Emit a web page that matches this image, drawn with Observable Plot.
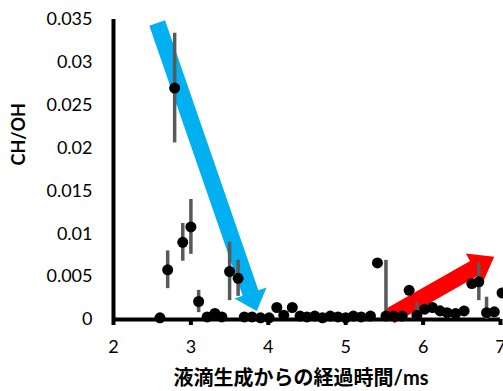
<!DOCTYPE html>
<html>
<head>
<meta charset="utf-8">
<script src="https://cdn.jsdelivr.net/npm/d3@7"></script>
<script src="https://cdn.jsdelivr.net/npm/@observablehq/plot@0.6"></script>
<style>
  html, body { margin: 0; padding: 0; background: #fff; }
  #chart { width: 503px; height: 391px; overflow: hidden; }
</style>
</head>
<body>
<div id="chart"></div>
<script>
// Elapsed time since droplet generation (ms)
const timeMs = [
  2.60, 2.70, 2.79, 2.895, 3.00, 3.10, 3.21, 3.31, 3.40, 3.50, 3.61,
  3.69, 3.79, 3.90, 4.01, 4.11, 4.20, 4.31, 4.41,
  4.50, 4.60, 4.70, 4.80, 4.90, 5.00, 5.10, 5.20, 5.32, 5.41,
  5.52, 5.62, 5.73, 5.82, 5.92, 6.02, 6.12, 6.22, 6.31, 6.42, 6.53,
  6.63, 6.72, 6.82, 6.92, 7.02
];
// CH/OH ratio
const chOh = [
  0.0002, 0.0058, 0.0270, 0.0090, 0.0108, 0.0021, 0.0003, 0.0007, 0.0003, 0.0056, 0.0048,
  0.0003, 0.0003, 0.0002, 0.0002, 0.0014, 0.0005, 0.0014, 0.0004,
  0.0003, 0.0004, 0.0002, 0.0004, 0.0003, 0.0002, 0.0004, 0.0003, 0.0004, 0.0066,
  0.0004, 0.0004, 0.0004, 0.0034, 0.0005, 0.0012, 0.0014, 0.0010, 0.0008, 0.0007, 0.0010,
  0.0042, 0.0044, 0.0008, 0.0009, 0.0031
];
// Error (± standard deviation)
const chOhErr = [
  0, 0.0022, 0.0064, 0.0022, 0.0032, 0.0013, 0, 0, 0, 0.0034, 0.0021,
  0, 0, 0, 0, 0, 0, 0, 0,
  0, 0, 0, 0, 0, 0, 0, 0, 0, 0,
  0.0065, 0, 0, 0, 0.0015, 0, 0, 0.0006, 0, 0, 0,
  0, 0.0022, 0.0018, 0, 0
];

const xTicks = [2, 3, 4, 5, 6, 7];
const xTickLabels = ["2", "3", "4", "5", "6", "7"];
const yTicks = [0, 0.005, 0.01, 0.015, 0.02, 0.025, 0.03, 0.035];
const yTickLabels = ["0", "0.005", "0.01", "0.015", "0.02", "0.025", "0.03", "0.035"];
const xTitle = "液滴生成からの経過時間/ms";
const yTitle = "CH/OH";

// Annotation arrows (tail -> tip, in data units)
const arrowNames = ["decrease", "increase"];
const arrowFrom = [[2.571, 0.03454], [5.579, 0.00035]];
const arrowTo = [[3.857, 0.00093], [6.925, 0.00725]];
const arrowColors = ["#00B0F0", "#FF0000"];

const points = timeMs.map((t, i) => ({t, v: chOh[i], e: chOhErr[i]}));
const bars = points.filter(d => d.e > 0).map(d => ({t: d.t, lo: Math.max(0, d.v - d.e), hi: d.v + d.e}));

const FONT = "Lato, 'Noto Sans CJK JP', sans-serif";

const chart = Plot.plot({
  width: 503,
  height: 391,
  marginLeft: 113,
  marginRight: 3,
  marginTop: 19,
  marginBottom: 72,
  style: {fontFamily: FONT, fontSize: "18px", color: "#000", background: "#fff"},
  x: {domain: [2, 7], ticks: xTicks, tickFormat: d => xTickLabels[xTicks.indexOf(d)], tickSize: 0, tickPadding: 21, label: null},
  y: {domain: [0, 0.035], ticks: yTicks, tickFormat: d => yTickLabels[yTicks.indexOf(d)], tickSize: 0, tickPadding: 21, label: null},
  marks: [
    Plot.ruleY([0], {stroke: "#000", strokeWidth: 4}),
    Plot.ruleX([2], {stroke: "#000", strokeWidth: 4}),
    Plot.ruleX(xTicks, {y1: 0, y2: -0.0007, stroke: "#000", strokeWidth: 4}),
    Plot.ruleX(bars, {x: "t", y1: "lo", y2: "hi", stroke: "#595959", strokeWidth: 3.5}),
    Plot.dot(points, {x: "t", y: "v", r: 5.5, fill: "#000", stroke: "none"}),
    Plot.text([xTitle], {frameAnchor: "bottom", lineAnchor: "middle", dy: 59, dx: -6, fontSize: 20, fontWeight: "bold", fill: "#000"}),
    Plot.text([yTitle], {frameAnchor: "left", lineAnchor: "middle", rotate: -90, dx: -94, dy: -4, fontSize: 18, fontWeight: "bold", fill: "#000"})
  ]
});

// draw annotation arrows beneath the data, positioned with the plot's scales
const sx = chart.scale("x"), sy = chart.scale("y");
const px = v => sx.range[0] + (v - sx.domain[0]) / (sx.domain[1] - sx.domain[0]) * (sx.range[1] - sx.range[0]);
const py = v => sy.range[0] + (v - sy.domain[0]) / (sy.domain[1] - sy.domain[0]) * (sy.range[1] - sy.range[0]);
const firstMark = chart.querySelector("g[aria-label]");
arrowNames.forEach((name, i) => {
  const T = [px(arrowFrom[i][0]), py(arrowFrom[i][1])];
  const P = [px(arrowTo[i][0]), py(arrowTo[i][1])];
  const dx = P[0] - T[0], dy = P[1] - T[1];
  const len = Math.hypot(dx, dy);
  const u = [dx / len, dy / len];
  const n = [-u[1], u[0]];
  const w = 8.3, H = 17, L = i === 0 ? 19 : 23;
  const B = [P[0] - u[0] * L, P[1] - u[1] * L];
  const pts = [
    [T[0] + n[0] * w, T[1] + n[1] * w],
    [B[0] + n[0] * w, B[1] + n[1] * w],
    [B[0] + n[0] * H, B[1] + n[1] * H],
    P,
    [B[0] - n[0] * H, B[1] - n[1] * H],
    [B[0] - n[0] * w, B[1] - n[1] * w],
    [T[0] - n[0] * w, T[1] - n[1] * w]
  ];
  const poly = document.createElementNS("http://www.w3.org/2000/svg", "polygon");
  poly.setAttribute("points", pts.map(p => p.join(",")).join(" "));
  poly.setAttribute("fill", arrowColors[i]);
  poly.setAttribute("aria-label", name);
  chart.insertBefore(poly, firstMark);
});

document.getElementById("chart").appendChild(chart);
</script>
</body>
</html>
